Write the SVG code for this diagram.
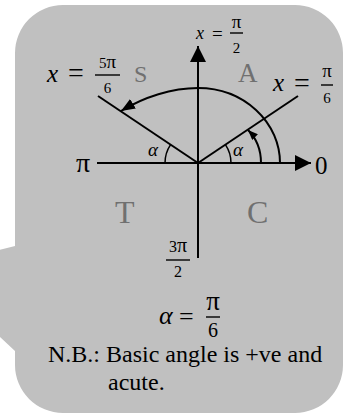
<svg xmlns="http://www.w3.org/2000/svg" width="347" height="414" viewBox="0 0 347 414">
<style>
.ser{font-family:"Liberation Serif","Times New Roman",serif;fill:#000}
.it{font-style:italic}
.quad{font-family:"Liberation Serif","Times New Roman",serif;fill:#707070}
.ln{stroke:#000;stroke-width:2;fill:none}
.thin{stroke:#000;stroke-width:1.5;fill:none}
.bar{stroke:#000;stroke-width:1.4}
.mid{text-anchor:middle}
</style>
<defs>
<marker id="axh" viewBox="0 0 10 10" refX="10" refY="5" markerWidth="16" markerHeight="16" markerUnits="userSpaceOnUse" orient="auto"><path d="M0,0 L10,5 L0,10 Z" fill="#000"/></marker>
<marker id="bigh" viewBox="0 0 10 10" refX="10" refY="5" markerWidth="14" markerHeight="11" markerUnits="userSpaceOnUse" orient="auto" preserveAspectRatio="none"><path d="M0,0 L10,5 L0,10 Z" fill="#000"/></marker>
<marker id="smh" viewBox="0 0 10 10" refX="10" refY="5" markerWidth="10" markerHeight="8" markerUnits="userSpaceOnUse" orient="auto" preserveAspectRatio="none"><path d="M0,0 L10,5 L0,10 Z" fill="#000"/></marker>
</defs>
<g id="callout">
<path d="M63,5 H295 A48,48 0 0 1 343,53 V365 A48,48 0 0 1 295,413 H63 A48,48 0 0 1 15,365 V351 L-1,336 V250 L15,246 V53 A48,48 0 0 1 63,5 Z" fill="#c0c0c0"/>
</g>
<g id="connectors">
<path class="ln" d="M97,163 H311" marker-end="url(#axh)"/>
<path class="ln" d="M198,258 V46" marker-end="url(#axh)"/>
<path class="ln" d="M198,163 L98,96"/>
<path class="ln" d="M198,163 L298,96"/>
<path class="ln" d="M280,163 A82,75 0 0 0 198,88 C172,88 144,97 121,111" marker-end="url(#bigh)"/>
<path class="ln" d="M261,163 C261,151 257,139 248,130" marker-end="url(#smh)"/>
<path class="thin" d="M231,163 A33,33 0 0 0 225.4,144.6"/>
<path class="thin" d="M165,163 A33,33 0 0 1 170.6,144.6"/>
</g>
<g id="quadrants">
<text class="quad" x="134" y="82" font-size="24">S</text>
<text class="quad" x="238" y="82" font-size="27">A</text>
<text class="quad" x="115" y="223" font-size="32">T</text>
<text class="quad" x="247" y="223" font-size="32">C</text>
</g>
<g id="axis-labels">
<text class="ser" x="76" y="172" font-size="28">π</text>
<text class="ser" x="315" y="174" font-size="25">0</text>
<text class="ser it" x="148" y="156" font-size="19">α</text>
<text class="ser it" x="233" y="156" font-size="19">α</text>
</g>
<g id="label-top">
<text class="ser it" x="196" y="39" font-size="18">x</text>
<text class="ser" x="212" y="40" font-size="19">=</text>
<text class="ser mid" x="236.5" y="28" font-size="19">π</text>
<line class="bar" x1="230" y1="33" x2="243" y2="33"/>
<text class="ser mid" x="236.5" y="53" font-size="15">2</text>
</g>
<g id="label-5pi6">
<text class="ser it" x="47" y="82" font-size="25">x</text>
<text class="ser" x="68" y="82" font-size="28">=</text>
<text class="ser mid" x="107.5" y="68" font-size="15">5<tspan font-size="19">π</tspan></text>
<line class="bar" x1="95" y1="75" x2="120" y2="75"/>
<text class="ser mid" x="107.5" y="93" font-size="15">6</text>
</g>
<g id="label-pi6">
<text class="ser it" x="273" y="91" font-size="25">x</text>
<text class="ser" x="294" y="92" font-size="28">=</text>
<text class="ser mid" x="327" y="77" font-size="19">π</text>
<line class="bar" x1="321" y1="85" x2="333" y2="85"/>
<text class="ser mid" x="327" y="103" font-size="15">6</text>
</g>
<g id="label-3pi2">
<text class="ser mid" x="178" y="252" font-size="16">3<tspan font-size="20">π</tspan></text>
<line class="bar" x1="166" y1="260" x2="190" y2="260"/>
<text class="ser mid" x="178" y="277" font-size="16">2</text>
</g>
<g id="alpha-eq">
<text class="ser it" x="159" y="324" font-size="26">α</text>
<text class="ser" x="179" y="325" font-size="26">=</text>
<text class="ser mid" x="213" y="310" font-size="27">π</text>
<line class="bar" x1="206" y1="317" x2="220" y2="317"/>
<text class="ser mid" x="213" y="337" font-size="20">6</text>
</g>
<g id="note">
<text class="ser" x="48" y="362" font-size="24">N.B.: Basic angle is +ve and</text>
<text class="ser" x="108" y="390" font-size="24">acute.</text>
</g>
</svg>
